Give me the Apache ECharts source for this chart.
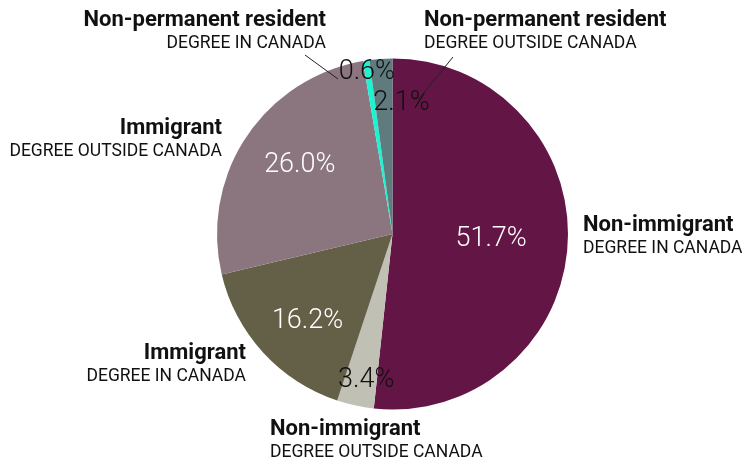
<!DOCTYPE html>
<html>
<head>
<meta charset="utf-8">
<script src="https://cdn.jsdelivr.net/npm/echarts@6/dist/echarts.min.js"></script>
<style>
  html, body { margin: 0; padding: 0; background: #ffffff; }
  #chart { width: 742px; height: 462px; }
</style>
</head>
<body>
<div id="chart"></div>
<script>
// Share of graduates by immigrant status and where the degree was earned
const groups = ['Non-immigrant', 'Non-immigrant', 'Immigrant', 'Immigrant', 'Non-permanent resident', 'Non-permanent resident'];
const degrees = ['DEGREE IN CANADA', 'DEGREE OUTSIDE CANADA', 'DEGREE IN CANADA', 'DEGREE OUTSIDE CANADA', 'DEGREE IN CANADA', 'DEGREE OUTSIDE CANADA'];
const shares = [51.7, 3.4, 16.2, 26.0, 0.6, 2.1];

// Styling
const sliceColors = ['#631546', '#c1c0b4', '#636047', '#8b7680', '#1cf3d0', '#5f7b7e'];
const valueTextColors = ['#ffffff', '#111111', '#ffffff', '#ffffff', '#111111', '#111111'];
const FONT = 'Roboto, "Noto Sans", sans-serif';
const CENTER = [392.5, 234];
const RADIUS = 175.5;

// Nudges for the value labels, relative to their default inside spot
const valueNudge = [[8, 0], [-7, 58], [-18, 26], [-17, -19], [-12, -72], [15, -40]];

// Placement of the category labels, with leader lines for the two thin slices
const nameSpots = [
  { x: 583, y: 237, align: 'left' },
  { x: 270, y: 441, align: 'left' },
  { x: 246, y: 365, align: 'right' },
  { x: 222, y: 140, align: 'right' },
  { x: 326, y: 32, align: 'right', line: [[305, 55], [338, 79]] },
  { x: 424, y: 32, align: 'left', line: [[453, 57], [418, 100]] }
];

const chart = echarts.init(document.getElementById('chart'), null, { renderer: 'canvas' });

chart.setOption({
  backgroundColor: '#ffffff',
  animation: false,
  series: [
    {
      // slices with their percentage labels
      type: 'pie',
      z: 2,
      center: CENTER,
      radius: RADIUS,
      startAngle: 90,
      clockwise: true,
      silent: true,
      avoidLabelOverlap: false,
      data: shares.map((v, i) => ({
        value: v,
        name: groups[i] + ' ' + degrees[i],
        itemStyle: { color: sliceColors[i] },
        label: { color: valueTextColors[i] }
      })),
      label: {
        show: true,
        position: 'inside',
        formatter: p => p.value.toFixed(1) + '%',
        fontFamily: FONT,
        fontSize: 27,
        fontWeight: 300
      },
      labelLine: { show: false },
      labelLayout: p => ({ dx: valueNudge[p.dataIndex][0], dy: valueNudge[p.dataIndex][1] })
    },
    {
      // invisible twin carrying the category labels and leader lines, drawn above the slices
      type: 'pie',
      z: 4,
      center: CENTER,
      radius: RADIUS,
      startAngle: 90,
      clockwise: true,
      silent: true,
      avoidLabelOverlap: false,
      itemStyle: { color: 'rgba(0,0,0,0)' },
      data: shares.map((v, i) => ({
        value: v,
        name: groups[i] + ' / ' + degrees[i],
        labelLine: { show: !!nameSpots[i].line }
      })),
      label: {
        show: true,
        position: 'outside',
        formatter: p => '{t|' + groups[p.dataIndex] + '}\n{s|' + degrees[p.dataIndex] + '}',
        rich: {
          t: { fontFamily: FONT, fontSize: 22, fontWeight: 'bold', color: '#111111', lineHeight: 24 },
          s: { fontFamily: FONT, fontSize: 17.5, fontWeight: 'normal', color: '#111111', lineHeight: 24 }
        }
      },
      labelLine: { lineStyle: { color: '#222222', width: 1 } },
      labelLayout: p => {
        const s = nameSpots[p.dataIndex];
        const o = { x: s.x, y: s.y, align: s.align, verticalAlign: 'middle' };
        if (s.line) o.labelLinePoints = [s.line[0], s.line[1], s.line[1]];
        return o;
      }
    }
  ]
});
</script>
</body>
</html>
